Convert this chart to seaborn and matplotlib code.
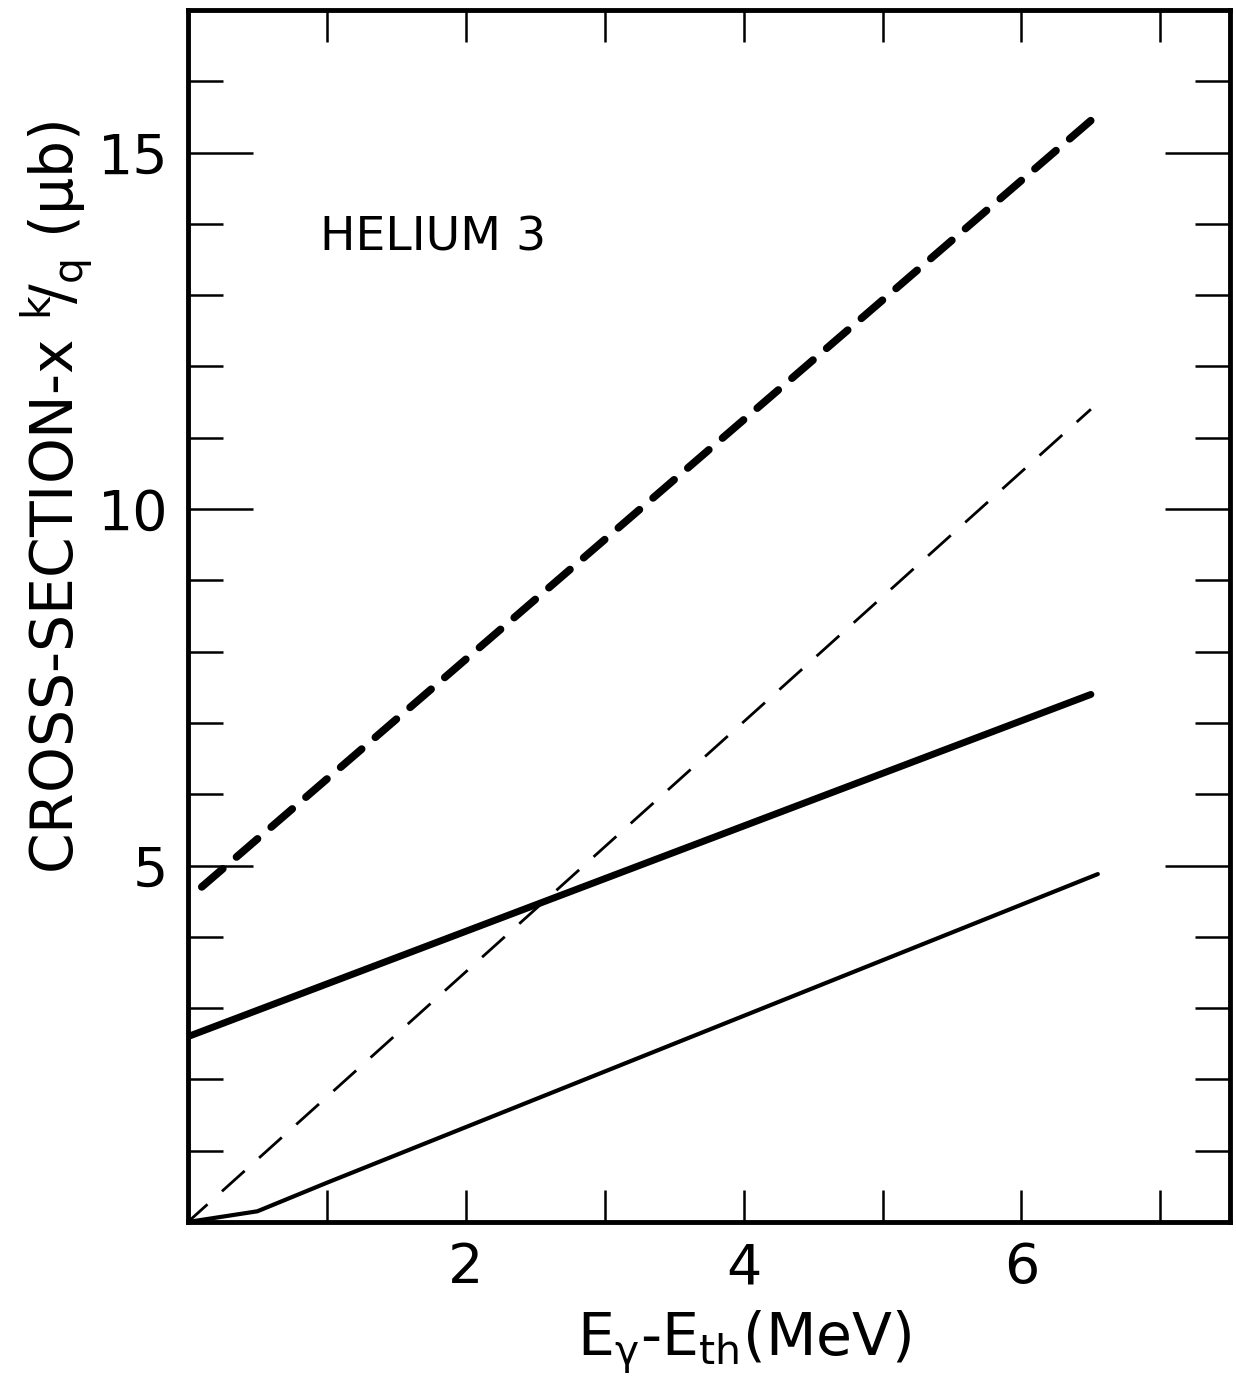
import numpy as np
import pandas as pd
import matplotlib
matplotlib.use("Agg")
import matplotlib.pyplot as plt
import seaborn as sns
from matplotlib.ticker import MultipleLocator

# ── DATA ─────────────────────────────────────────────────────
thick_dash_x = [0.1, 6.5]
thick_dash_y = [4.7, 15.45]

thin_dash_x = [0.0, 6.5]
thin_dash_y = [0.0, 11.4]

thick_solid_x = [0.0, 6.5]
thick_solid_y = [2.6, 7.4]

thin_solid_x = [0.0, 0.5, 1.0, 6.55]
thin_solid_y = [0.0, 0.15, 0.55, 4.88]

x_major = [2, 4, 6]
y_major = [5, 10, 15]

sns.set_style("ticks")
plt.rcParams['font.family'] = ['DejaVu Sans']
plt.rcParams['lines.scale_dashes'] = False
plt.rcParams['text.color'] = 'black'
plt.rcParams['axes.labelcolor'] = 'black'
plt.rcParams['xtick.color'] = 'black'
plt.rcParams['ytick.color'] = 'black'
plt.rcParams['mathtext.default'] = 'regular'

fig = plt.figure(figsize=(12.36, 13.91), dpi=100)
ax = fig.add_axes([0.152, 0.1215, 0.843, 0.8713])

# thick dashed
sns.lineplot(x=thick_dash_x, y=thick_dash_y, ax=ax, color='black', lw=5.5,
             linestyle=(0, (20, 13)), dash_capstyle='round')
# thin dashed
sns.lineplot(x=thin_dash_x, y=thin_dash_y, ax=ax, color='black', lw=2.0,
             linestyle=(3, (22, 14)))
# thick solid
sns.lineplot(x=thick_solid_x, y=thick_solid_y, ax=ax, color='black', lw=5.0,
             solid_capstyle='round')
# thin solid
sns.lineplot(x=thin_solid_x, y=thin_solid_y, ax=ax, color='black', lw=3.0,
             solid_capstyle='round')

ax.set_xlim(0, 7.5)
ax.set_ylim(0, 17)

ax.set_xticks(x_major)
ax.set_yticks(y_major)
ax.xaxis.set_minor_locator(MultipleLocator(1))
ax.yaxis.set_minor_locator(MultipleLocator(1))

ax.tick_params(axis='both', which='both', direction='in', top=True, right=True,
               color='black', width=1.8, labelcolor='black')
ax.tick_params(axis='x', which='both', length=23, labelsize=40, pad=14)
ax.tick_params(axis='y', which='major', length=47, labelsize=40, pad=14)
ax.tick_params(axis='y', which='minor', length=25)

for sp in ax.spines.values():
    sp.set_linewidth(3.5)
    sp.set_color('black')

ax.set_xlabel(r'E$_{\gamma}$-E$_{th}$(MeV)', fontsize=42, color='black')
ax.set_ylabel(r'CROSS-SECTION-x $^{k}\!/_{q}$ ($\mu$b)', fontsize=42, color='black')
ax.xaxis.set_label_coords(0.534, -0.072)
ax.yaxis.set_label_coords(-0.088, 0.598)

ax.text(0.95, 13.8, 'HELIUM 3', fontsize=34, ha='left', va='center', color='black')

fig.savefig('out.png', dpi=100, facecolor='white')
